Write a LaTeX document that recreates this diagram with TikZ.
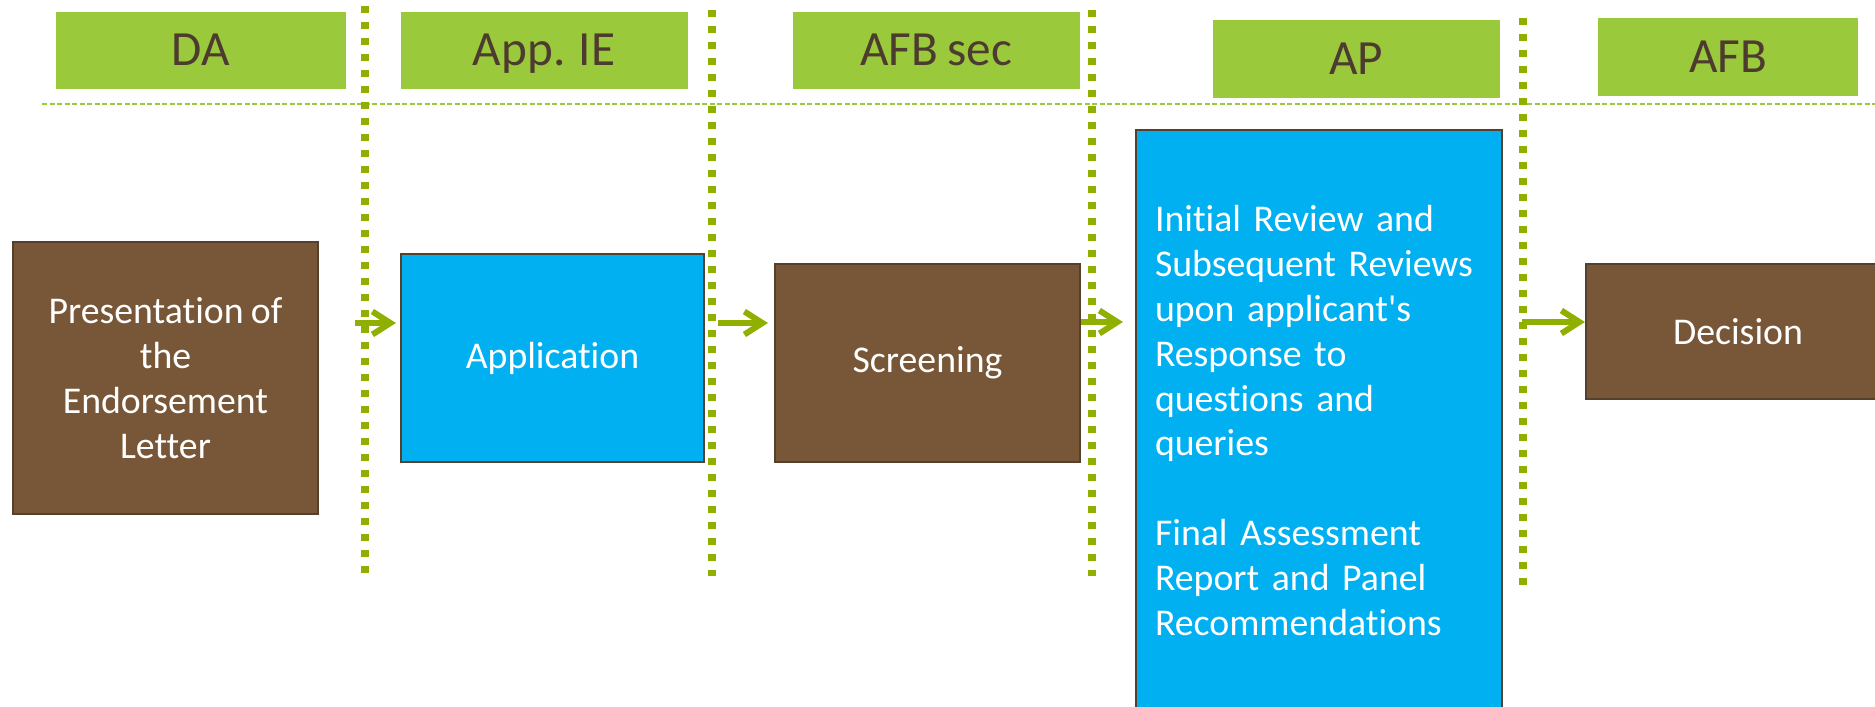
\documentclass[tikz,border=0pt]{standalone}
\usepackage{fontspec}
\setmainfont{Carlito}[RawFeature={-liga;-clig;-calt;-dlig}, WordSpace=0.85]
\usetikzlibrary{arrows.meta}

\definecolor{headgreen}{RGB}{154,202,60}
\definecolor{lanegreen}{RGB}{143,176,0}
\definecolor{boxbrown}{RGB}{119,87,55}
\definecolor{boxline}{RGB}{84,64,44}
\definecolor{boxblue}{RGB}{0,176,240}
\definecolor{headtext}{RGB}{78,59,48}

\begin{document}
\begin{tikzpicture}[x=0.2mm, y=-0.2mm,
        head/.style={fill=headgreen, text=headtext, inner sep=0pt, text height=18pt, text depth=0pt,
            font=\fontsize{28}{33}\selectfont, minimum width=57.4mm, minimum height=15.4mm},
        stage/.style={draw=boxline, line width=1.2pt, text=white, inner sep=0pt,
            align=center, font=\fontsize{21.5}{25.5}\selectfont},
        lane/.style={lanegreen, line width=4.2pt, dash pattern=on 1.4mm off 1.8mm},
        flow/.style={lanegreen, line width=3.4pt, -{Straight Barb[length=3.6mm,width=4.6mm]}}]
        \clip (0,0) rectangle (1875,706);

        \draw[headgreen, line width=0.85pt, dash pattern=on 1mm off 0.5mm] (42,104) -- (1875,104);

        \node[head, minimum width=58mm] (hda) at (201,50) {DA};
        \node[head] (hie) at (544,50) {App. IE};
        \node[head] (hsec) at (936,50) {AFB sec};
        \node[head, minimum height=15.6mm] (hap) at (1356,59) {AP};
        \node[head, minimum width=52mm, minimum height=15.6mm] (hafb) at (1728,57) {AFB};

        \draw[lane] (365,6) -- (365,574);
        \draw[lane] (712,10) -- (712,576);
        \draw[lane] (1092,10) -- (1092,576);
        \draw[lane] (1523,18) -- (1523,586);

        \node[stage, fill=boxbrown, minimum width=61mm, minimum height=54.4mm] (pres) at (165.5,378)
            {Presentation of\\the\\Endorsement\\Letter};
        \node[stage, fill=boxblue, minimum width=60.6mm, minimum height=41.6mm] (app) at (552.5,358)
            {Application};
        \node[stage, fill=boxbrown, minimum width=61mm, minimum height=39.6mm] (screen) at (927.5,363)
            {Screening};
        \node[stage, fill=boxblue, align=left, text width=65.6mm, inner xsep=3.8mm,
            minimum height=116.2mm] (review) at (1319,420.5)
            {Initial Review and\\Subsequent Reviews\\upon applicant\textquotesingle s\\Response to\\questions and\\queries\\[25.5pt]
             Final Assessment\\Report and Panel\\Recommendations};
        \node[stage, fill=boxbrown, minimum width=60.8mm, minimum height=27mm] (dec) at (1738,331.5)
            {Decision};

        \draw[flow, shorten <=7.2mm, shorten >=0.8mm] (pres.east |- 0,323) -- (app.west |- 0,323);
        \draw[flow, shorten <=2.6mm, shorten >=1.2mm] (app.east |- 0,323) -- (screen.west |- 0,323);
        \draw[flow, shorten >=2.4mm] (screen.east |- 0,322) -- (review.west |- 0,322);
        \draw[flow, shorten <=3.8mm] (review.east |- 0,322) -- (dec.west |- 0,322);
    \end{tikzpicture}
\end{document}
